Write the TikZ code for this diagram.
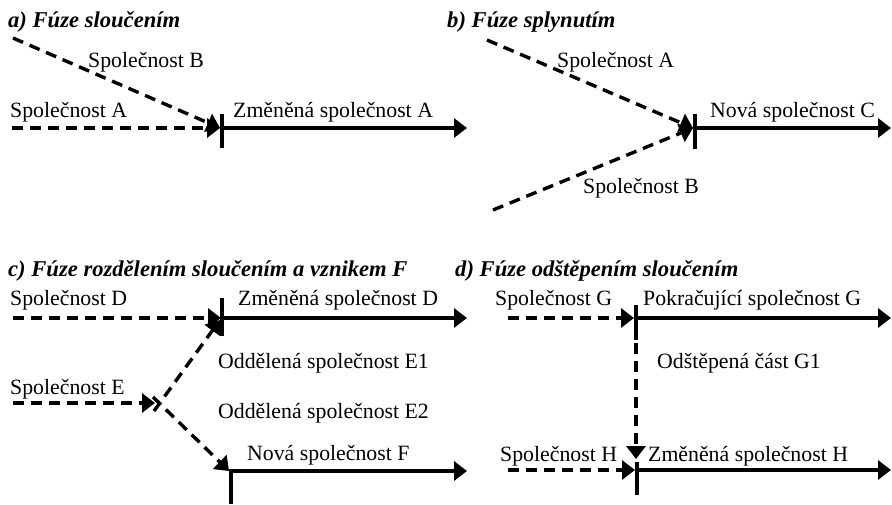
\documentclass[tikz,border=0pt]{standalone}
\usepackage{fontspec}
\setmainfont{Liberation Serif}
\usetikzlibrary{arrows.meta}
\begin{document}
\begin{tikzpicture}[x=1pt,y=-1pt,
  lbl/.style={anchor=base west, inner sep=0pt, font=\fontsize{21.8}{26}\selectfont},
  ttl/.style={anchor=base west, inner sep=0pt, font=\fontsize{22.6}{27}\selectfont\bfseries\itshape},
  flow/.style={line width=3.4pt, -{Triangle[length=13pt,width=19pt]}},
  dflow/.style={flow, dash pattern=on 11pt off 7pt},
  barline/.style={line width=4.5pt}]
\useasboundingbox (0,0) rectangle (892,504);

% ---------------- a) ----------------
\node[ttl] (ta) at (8,27) {a) Fúze sloučením};
\coordinate (aB0) at (13,38);
\coordinate (aA0) at (12,128);
\coordinate (aJ)  at (220,128);
\coordinate (aS)  at (222,128);
\coordinate (aBt) at (222,114);
\coordinate (aBb) at (222,148);
\coordinate (aE)  at (467,128);
\draw[dflow] (aB0) -- (aJ);
\draw[dflow] (aA0) -- (aJ);
\draw[barline] (aBt) -- (aBb);
\draw[flow] (aS) -- (aE);
\node[lbl] (la1) at (88,67) {Společnost B};
\node[lbl] (la2) at (10,117) {Společnost A};
\node[lbl] (la3) at (233,117) {Změněná společnost A};

% ---------------- b) ----------------
\node[ttl] (tb) at (447,27) {b) Fúze splynutím};
\coordinate (bA0) at (487,40);
\coordinate (bB0) at (493,210);
\coordinate (bJ)  at (693,128);
\coordinate (bS)  at (695,128);
\coordinate (bBt) at (695,114);
\coordinate (bBb) at (695,149);
\coordinate (bE)  at (891,128);
\draw[dflow] (bA0) -- (bJ);
\draw[dflow] (bB0) -- (bJ);
\draw[barline] (bBt) -- (bBb);
\draw[flow] (bS) -- (bE);
\node[lbl] (lb1) at (557,67) {Společnost A};
\node[lbl] (lb2) at (583,193) {Společnost B};
\node[lbl] (lb3) at (710,117) {Nová společnost C};

% ---------------- c) ----------------
\node[ttl] (tc) at (8,276) {c) Fúze rozdělením sloučením a vznikem F};
\coordinate (cD0) at (13,318);
\coordinate (cDJ) at (221,318);
\coordinate (cDS) at (222,318);
\coordinate (cDBt) at (222,298);
\coordinate (cDBb) at (222,336);
\coordinate (cDE) at (467,318);
\coordinate (cE0) at (13,403);
\coordinate (cEJ) at (155,403);
\coordinate (cU0) at (154,411);
\coordinate (cUT) at (220,320);
\coordinate (cL0) at (153,397);
\coordinate (cLT) at (229,471);
\coordinate (cFS) at (231,471);
\coordinate (cFBt) at (231,469);
\coordinate (cFBb) at (231,504);
\coordinate (cFE) at (467,471);
\draw[dflow] (cD0) -- (cDJ);
\draw[barline] (cDBt) -- (cDBb);
\draw[flow] (cDS) -- (cDE);
\draw[dflow] (cE0) -- (cEJ);
\draw[dflow] (cU0) -- (cUT);
\draw[dflow] (cL0) -- (cLT);
\draw[barline] (cFBt) -- (cFBb);
\draw[flow] (cFS) -- (cFE);
\node[lbl] (lc1) at (10,305) {Společnost D};
\node[lbl] (lc2) at (238,305) {Změněná společnost D};
\node[lbl] (lc3) at (218,368) {Oddělená společnost E1};
\node[lbl] (lc4) at (10,394) {Společnost E};
\node[lbl] (lc5) at (218,418) {Oddělená společnost E2};
\node[lbl] (lc6) at (247,460) {Nová společnost F};

% ---------------- d) ----------------
\node[ttl] (td) at (455,276) {d) Fúze odštěpením sloučením};
\coordinate (dG0) at (508,318);
\coordinate (dGJ) at (634,318);
\coordinate (dGS) at (636,318);
\coordinate (dGBt) at (636,305);
\coordinate (dGBb) at (636,340);
\coordinate (dGE) at (891,318);
\coordinate (dV0) at (636,343);
\coordinate (dVT) at (636,459);
\coordinate (dH0) at (508,470);
\coordinate (dHJ) at (635,470);
\coordinate (dHS) at (637,470);
\coordinate (dHBt) at (637,462);
\coordinate (dHBb) at (637,495);
\coordinate (dHE) at (891,470);
\draw[dflow] (dG0) -- (dGJ);
\draw[barline] (dGBt) -- (dGBb);
\draw[flow] (dGS) -- (dGE);
\draw[dflow] (dV0) -- (dVT);
\draw[dflow] (dH0) -- (dHJ);
\draw[barline] (dHBt) -- (dHBb);
\draw[flow] (dHS) -- (dHE);
\node[lbl] (ld1) at (495,305) {Společnost G};
\node[lbl] (ld2) at (643,305) {Pokračující společnost G};
\node[lbl] (ld3) at (657,368) {Odštěpená část G1};
\node[lbl] (ld4) at (500,461) {Společnost H};
\node[lbl] (ld5) at (648,461) {Změněná společnost H};
\end{tikzpicture}
\end{document}
